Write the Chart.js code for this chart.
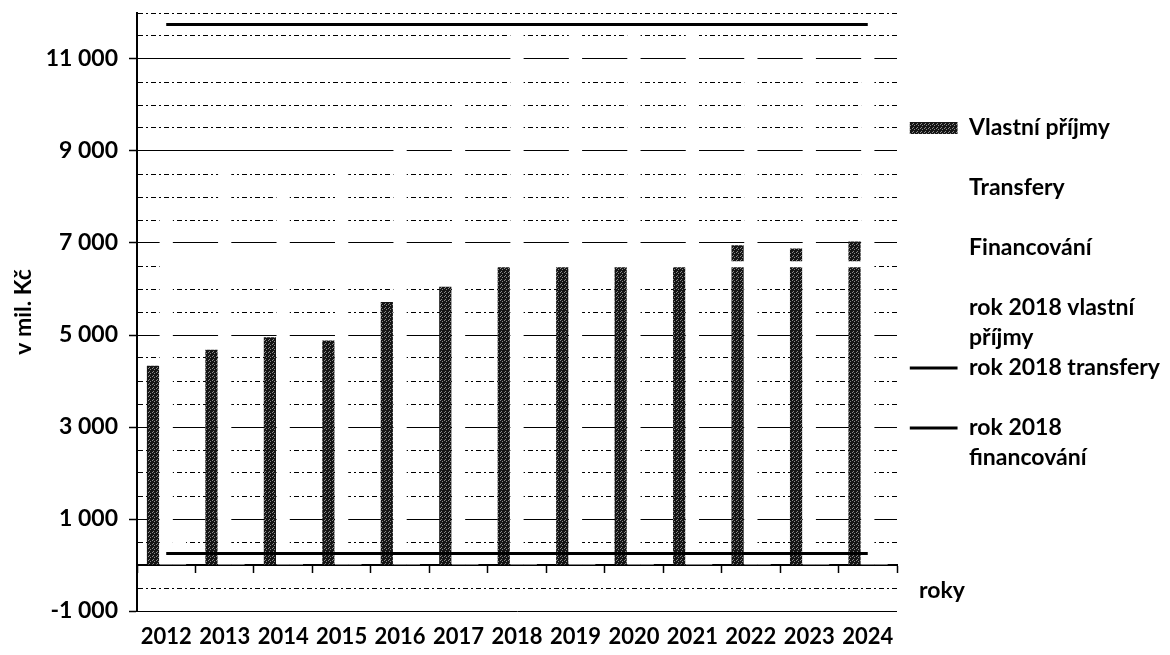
<!DOCTYPE html>
<html>
<head>
<meta charset="utf-8">
<script src="https://cdn.jsdelivr.net/npm/chart.js@4.4.1/dist/chart.umd.min.js"></script>
<style>
  html, body { margin: 0; padding: 0; background: #ffffff; }
  #wrap { width: 1170px; height: 655px; position: relative; }
  canvas { display: block; }
</style>
</head>
<body>
<div id="wrap"><canvas id="chart" width="1170" height="655"></canvas></div>
<script>
// ---- data ----
const categories = ['2012', '2013', '2014', '2015', '2016', '2017', '2018', '2019', '2020', '2021', '2022', '2023', '2024'];
const vlastniPrijmy = [4330, 4680, 4950, 4880, 5720, 6050, 6540, 6540, 6550, 6550, 6950, 6880, 7030];
const transfery = [7750, 8700, 8250, 8750, 9250, 10200, 11750, 11700, 11650, 11600, 11300, 11300, 11300];
const financovani = [750, 300, 350, 300, 250, 250, 250, 300, 250, 250, 250, 250, 250];
const rok2018Vlastni = [6540, 6540, 6540, 6540, 6540, 6540, 6540, 6540, 6540, 6540, 6540, 6540, 6540];
const rok2018Transfery = [11750, 11750, 11750, 11750, 11750, 11750, 11750, 11750, 11750, 11750, 11750, 11750, 11750];
const rok2018Financovani = [250, 250, 250, 250, 250, 250, 250, 250, 250, 250, 250, 250, 250];
const seriesNames = ['Vlastní příjmy', 'Transfery', 'Financování', 'rok 2018 vlastní příjmy', 'rok 2018 transfery', 'rok 2018 financování'];
const legendLines = [['Vlastní příjmy', ''], ['Transfery', ''], ['Financování', ''], ['rok 2018 vlastní', 'příjmy'], ['rok 2018 transfery', ''], ['rok 2018', 'financování']];
const yTickValues = [-1000, 1000, 3000, 5000, 7000, 9000, 11000];
const yTickLabels = ['-1 000', '1 000', '3 000', '5 000', '7 000', '9 000', '11 000'];
const yAxisTitle = 'v mil. Kč';
const xAxisTitle = 'roky';

// ---- styling helpers ----
const FONT = 'Lato';
const LEGEND_SIZE = 23;
const BOX_W = 48;

function makePattern() {
  const c = document.createElement('canvas');
  c.width = 4; c.height = 4;
  const g = c.getContext('2d');
  g.fillStyle = '#151515';
  g.fillRect(0, 0, 4, 4);
  g.fillStyle = '#8a8a8a';
  g.fillRect(0, 0, 1, 1);
  g.fillRect(2, 1, 1, 1);
  g.fillRect(1, 3, 1, 1);
  return g.createPattern(c, 'repeat');
}
const darkPattern = makePattern();

// legend / plot-area geometry
const PLOT_RIGHT = 897;
const LEGEND_MARK_X = 916;
const mctx = document.createElement('canvas').getContext('2d');
mctx.font = 'bold ' + LEGEND_SIZE + 'px ' + FONT;
let maxTextW = 0;
legendLines.forEach(ls => ls.forEach(t => { maxTextW = Math.max(maxTextW, mctx.measureText(t).width); }));
const legendW = BOX_W + LEGEND_SIZE / 2 + maxTextW + 10;
const padRight = Math.max(0, 1170 - LEGEND_MARK_X - legendW);
const legendLeft = 1170 - padRight - legendW;
const gapRight = Math.max(0, legendLeft - PLOT_RIGHT);

const xTitlePlugin = {
  id: 'xTitleRight',
  afterDraw(chart) {
    const { ctx, chartArea, scales } = chart;
    ctx.save();
    ctx.font = 'bold 23px ' + FONT;
    ctx.fillStyle = '#000000';
    ctx.textAlign = 'left';
    ctx.textBaseline = 'middle';
    ctx.fillText(xAxisTitle, chartArea.right + 22, scales.y.getPixelForValue(-560));
    ctx.restore();
  }
};

const barCommon = { type: 'bar', xAxisID: 'x', yAxisID: 'y', borderWidth: 0, categoryPercentage: 0.68, barPercentage: 1.0, order: 2 };
const lineCommon = { type: 'line', xAxisID: 'x', yAxisID: 'y', pointRadius: 0, pointHoverRadius: 0, fill: false, tension: 0, order: 1 };

new Chart(document.getElementById('chart'), {
  type: 'bar',
  data: {
    labels: categories,
    datasets: [
      Object.assign({}, barCommon, { label: seriesNames[0], data: vlastniPrijmy, backgroundColor: darkPattern, barPercentage: 0.92 }),
      Object.assign({}, barCommon, { label: seriesNames[1], data: transfery, backgroundColor: '#ffffff' }),
      Object.assign({}, barCommon, { label: seriesNames[2], data: financovani, backgroundColor: '#ffffff' }),
      Object.assign({}, lineCommon, { label: seriesNames[3], data: rok2018Vlastni, borderColor: '#ffffff', backgroundColor: '#ffffff', borderWidth: 6 }),
      Object.assign({}, lineCommon, { label: seriesNames[4], data: rok2018Transfery, borderColor: '#000000', backgroundColor: '#000000', borderWidth: 3 }),
      Object.assign({}, lineCommon, { label: seriesNames[5], data: rok2018Financovani, borderColor: '#000000', backgroundColor: '#000000', borderWidth: 3 })
    ]
  },
  options: {
    responsive: false,
    animation: false,
    devicePixelRatio: 1,
    layout: { padding: { top: 13, right: padRight, bottom: 0, left: 0 } },
    plugins: {
      tooltip: { enabled: false },
      legend: {
        display: true,
        position: 'right',
        align: 'start',
        maxWidth: 400,
        title: { display: true, text: '', font: { size: 10, lineHeight: '10px' }, padding: { top: 93.5, bottom: 0 } },
        labels: {
          usePointStyle: true,
          pointStyleWidth: BOX_W,
          boxHeight: 12,
          padding: 0,
          color: '#000000',
          font: { family: FONT, size: LEGEND_SIZE, weight: 'bold', lineHeight: '30px' },
          sort: (a, b) => a.datasetIndex - b.datasetIndex,
          generateLabels(chart) {
            const items = Chart.defaults.plugins.legend.labels.generateLabels(chart);
            items.forEach(it => {
              const i = it.datasetIndex;
              it.text = legendLines[i];
              it.pointStyle = i < 3 ? 'rect' : 'line';
              if (i < 3) { it.lineWidth = 0; }
            });
            return items;
          }
        }
      }
    },
    scales: {
      x: {
        type: 'category',
        offset: true,
        afterFit: s => { s.height = 44; },
        grid: { display: false, drawTicks: false },
        border: { display: false },
        ticks: {
          autoSkip: false, maxRotation: 0, minRotation: 0, padding: 13, color: '#000000',
          font: { family: FONT, size: 22, weight: 'bold' }
        }
      },
      y: {
        type: 'linear',
        position: 'left',
        min: -1000,
        max: 12000,
        afterFit: s => { s.width = 137; },
        ticks: {
          stepSize: 500,
          autoSkip: false,
          padding: 11,
          color: '#000000',
          font: { family: FONT, size: 23, weight: 'bold', lineHeight: 1.0 },
          callback: v => { const i = yTickValues.indexOf(v); return i >= 0 ? yTickLabels[i] : []; }
        },
        grid: {
          color: c => (c.tick && c.tick.value === 0) ? 'rgba(0,0,0,0)' : '#000000',
          lineWidth: 1,
          drawTicks: true,
          tickLength: 8,
          tickWidth: 1.5,
          tickColor: c => (c.tick && yTickValues.indexOf(c.tick.value) >= 0) ? '#000000' : 'rgba(0,0,0,0)'
        },
        border: {
          display: true, color: '#000000', width: 2,
          dash: c => (c.tick && yTickValues.indexOf(c.tick.value) < 0) ? [5, 3, 2, 3] : []
        },
        title: {
          display: true, text: yAxisTitle, color: '#000000',
          font: { family: FONT, size: 23, weight: 'bold' },
          padding: { top: 10, bottom: 0 }
        }
      },
      x2: {
        type: 'category',
        position: { y: 0 },
        offset: true,
        z: 1,
        afterFit: s => { s.height = 0; },
        grid: { display: true, drawOnChartArea: false, drawTicks: true, tickLength: 7, tickColor: '#000000', tickWidth: 1.5, offset: true },
        border: { display: true, color: '#000000', width: 2 },
        ticks: { display: false }
      },
      y2: {
        type: 'linear',
        position: 'right',
        display: false,
        afterFit: s => { s.width = gapRight; }
      }
    }
  },
  plugins: [xTitlePlugin]
});
</script>
</body>
</html>
